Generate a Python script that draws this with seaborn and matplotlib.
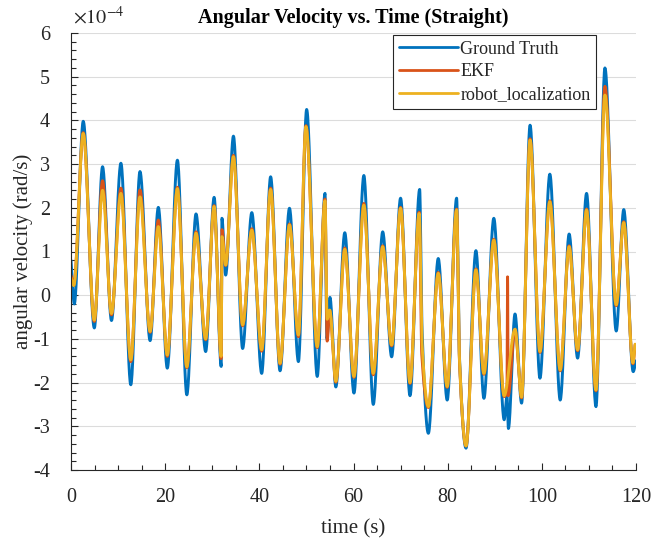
import numpy as np
import pandas as pd
import matplotlib
matplotlib.use("Agg")
import matplotlib.pyplot as plt
import seaborn as sns
from matplotlib.ticker import MultipleLocator

# ---- data: turning points (time in s, angular velocity in 1e-4 rad/s)
gt_time = [0.0, 0.7, 2.6, 4.95, 6.7, 8.6, 10.6, 12.7, 14.65, 16.8, 18.55, 20.45, 22.6, 24.6,
           26.55, 28.6, 30.4, 31.9, 32.05, 32.85, 34.5, 36.45, 38.4, 40.5, 42.4, 44.4, 46.4,
           48.3, 50.05, 52.3, 53.95, 54.35, 55.0, 56.25, 58.15, 60.1, 62.2, 64.2, 66.2, 68.1,
           70.0, 72.0, 74.05, 74.55, 75.9, 78.0, 79.9, 81.9, 82.5, 83.9, 86.0, 87.7, 89.8,
           92.0, 92.6, 92.9, 94.3, 95.7, 97.5, 99.6, 101.7, 103.9, 105.8, 107.6, 109.5,
           111.5, 113.4, 115.8, 117.4, 119.4, 120.0]
gt_vel = [0.80, -0.20, 3.98, -0.75, 2.94, -0.58, 3.02, -2.05, 2.83, -1.04, 2.01, -1.67, 3.09, -2.28,
          1.86, -1.29, 2.24, -1.63, 1.76, 0.46, 3.64, -1.22, 1.89, -1.79, 2.71, -1.73, 1.99,
          -1.52, 4.25, -1.86, 2.33, -1.00, -0.05, -2.10, 1.43, -2.24, 2.74, -2.50, 1.45, -1.41,
          2.22, -2.30, 2.42, -0.76, -3.16, 0.84, -2.40, 2.22, -1.40, -3.50, 1.02, -2.36, 1.76,
          -2.85, -2.30, -3.05, -0.43, -2.47, 3.89, -1.90, 2.77, -2.40, 1.40, -1.44, 2.33,
          -2.55, 5.20, -0.82, 1.96, -1.75, -1.50]

ekf_time = [0.0, 0.6, 2.6, 4.95, 6.7, 8.6, 10.6, 12.7, 14.65, 16.8, 18.55, 20.45, 22.6, 24.6,
            26.55, 28.6, 30.4, 31.9, 32.05, 32.85, 34.5, 36.45, 38.4, 40.5, 42.4, 44.4, 46.4,
            48.3, 49.9, 52.3, 53.95, 54.4, 54.95, 56.25, 58.15, 60.1, 62.2, 64.2, 66.2, 68.1,
            70.0, 72.0, 73.95, 74.5, 75.9, 78.0, 79.9, 81.9, 82.5, 83.9, 86.0, 87.7, 89.8,
            92.0, 92.6, 92.72, 92.85, 94.3, 95.7, 97.5, 99.6, 101.7, 103.9, 105.8, 107.6, 109.5,
            111.5, 113.4, 115.8, 117.4, 119.35, 119.8]
ekf_vel = [0.45, 0.25, 3.72, -0.60, 2.62, -0.45, 2.45, -1.52, 2.41, -0.85, 1.72, -1.40, 2.47, -1.66,
           1.45, -1.02, 2.05, -1.45, 1.50, 0.68, 3.20, -0.70, 1.52, -1.28, 2.45, -1.58, 1.63,
           -0.95, 3.88, -1.20, 2.20, -1.05, -0.36, -1.99, 1.08, -1.88, 2.10, -1.82, 1.13, -1.16,
           2.01, -2.02, 1.90, -1.35, -2.57, 0.52, -2.11, 1.97, -1.50, -3.45, 0.60, -1.81, 1.28,
           -2.32, -2.10, 0.42, -2.30, -0.78, -2.35, 3.58, -1.31, 2.16, -1.73, 1.13, -1.27, 1.97,
           -2.19, 4.78, -0.24, 1.68, -1.57, -1.14]

rl_time = [0.0, 0.6, 2.6, 4.95, 6.7, 8.6, 10.6, 12.7, 14.65, 16.8, 18.55, 20.45, 22.6, 24.6,
           26.55, 28.6, 30.4, 31.9, 32.05, 32.85, 34.5, 36.45, 38.4, 40.5, 42.4, 44.4, 46.4,
           48.3, 49.9, 52.3, 53.95, 54.4, 54.95, 56.25, 58.15, 60.1, 62.2, 64.2, 66.2, 68.1,
           70.0, 72.0, 73.95, 74.6, 75.9, 78.0, 79.9, 81.9, 82.5, 83.9, 86.0, 87.7, 89.8,
           92.0, 94.3, 95.7, 97.5, 99.6, 101.7, 103.9, 105.8, 107.6, 109.5,
           111.5, 113.4, 115.8, 117.4, 119.35, 119.8]
rl_vel = [0.40, 0.22, 3.70, -0.57, 2.40, -0.42, 2.33, -1.48, 2.25, -0.83, 1.57, -1.37, 2.44, -1.64,
          1.42, -1.00, 2.03, -1.40, 1.34, 0.69, 3.17, -0.68, 1.49, -1.25, 2.42, -1.56, 1.61,
          -0.91, 3.86, -1.18, 2.16, -0.55, -0.34, -1.97, 1.05, -1.86, 2.06, -1.79, 1.11, -1.14,
          1.99, -2.00, 1.87, -1.20, -2.55, 0.50, -2.09, 1.95, -1.45, -3.45, 0.58, -1.79, 1.26,
          -2.30, -0.78, -2.33, 3.55, -1.29, 2.14, -1.71, 1.11, -1.25, 1.95,
          -2.17, 4.58, -0.22, 1.66, -1.55, -1.12]

series_names = ["Ground Truth", "EKF", "robot_localization"]
series_colors = ["#0072BD", "#D95319", "#EDB120"]


def pchip_curve(x, y, per_seg=30):
    """Monotone cubic (shape-preserving) curve through the read points."""
    x = np.asarray(x, float)
    y = np.asarray(y, float)
    h = np.diff(x)
    d = np.diff(y) / h
    m = np.zeros_like(y)
    for k in range(1, len(x) - 1):
        if d[k - 1] * d[k] > 0:
            w1 = 2 * h[k] + h[k - 1]
            w2 = h[k] + 2 * h[k - 1]
            m[k] = (w1 + w2) / (w1 / d[k - 1] + w2 / d[k])
    m[0] = d[0]
    m[-1] = d[-1]
    xs, ys = [], []
    for k in range(len(x) - 1):
        u = np.linspace(0, 1, per_seg, endpoint=False)
        h00 = 2 * u**3 - 3 * u**2 + 1
        h10 = u**3 - 2 * u**2 + u
        h01 = -2 * u**3 + 3 * u**2
        h11 = u**3 - u**2
        xs.append(x[k] + h[k] * u)
        ys.append(h00 * y[k] + h10 * h[k] * m[k] + h01 * y[k + 1] + h11 * h[k] * m[k + 1])
    xs.append([x[-1]])
    ys.append([y[-1]])
    return np.concatenate(xs), np.concatenate(ys)


frames = []
for name, t, v in zip(series_names, [gt_time, ekf_time, rl_time], [gt_vel, ekf_vel, rl_vel]):
    xs, ys = pchip_curve(t, v)
    frames.append(pd.DataFrame({"time": xs, "vel": ys, "series": name}))
df = pd.concat(frames, ignore_index=True)

sns.set_theme(style="white")
plt.rcParams["font.family"] = ["Liberation Serif", "DejaVu Serif"]
plt.rcParams["mathtext.fontset"] = "stix"
plt.rcParams["axes.unicode_minus"] = False

fig = plt.figure(figsize=(6.54, 5.46), dpi=100)
ax = fig.add_axes([71 / 654, 1 - 470 / 546, 565 / 654, 437 / 546])

sns.lineplot(data=df, x="time", y="vel", hue="series", hue_order=series_names,
             palette=dict(zip(series_names, series_colors)), estimator=None, sort=False,
             linewidth=2.1, ax=ax)

ax.set_xlim(0, 120)
ax.set_ylim(-4, 6)
ax.xaxis.set_major_locator(MultipleLocator(20))
ax.xaxis.set_minor_locator(MultipleLocator(5))
ax.yaxis.set_major_locator(MultipleLocator(1))
ax.yaxis.set_minor_locator(MultipleLocator(0.2))
ax.grid(axis="y", which="major", color="#dcdcdc", linewidth=0.8)
ax.grid(axis="x", visible=False)
ax.set_axisbelow(True)

for s in ["top", "right"]:
    ax.spines[s].set_visible(False)
for s in ["left", "bottom"]:
    ax.spines[s].set_color("#262626")
    ax.spines[s].set_linewidth(0.8)

ax.tick_params(axis="both", which="major", direction="in", length=5, width=0.8,
               color="#262626", labelsize=14.5, labelcolor="#262626")
ax.tick_params(axis="both", which="minor", direction="in", length=3.5, width=0.8,
               color="#262626")
ax.tick_params(axis="x", which="major", pad=13, bottom=True)
ax.tick_params(axis="x", which="minor", bottom=True)
ax.tick_params(axis="y", which="major", pad=15, left=True)
ax.tick_params(axis="y", which="minor", left=True)

ax.set_xlabel("time (s)", fontsize=15, color="#262626", labelpad=9)
ax.set_ylabel("angular velocity (rad/s)", fontsize=15, color="#262626", labelpad=0)
ax.set_title("Angular Velocity vs. Time (Straight)", fontsize=14.5, fontweight="bold",
             color="black", pad=7)
fig.text(73 / 654, 1 - 18 / 546, r"$\times10^{-4}$", fontsize=14.5, color="#262626",
         va="center", ha="left")

leg = ax.legend(loc="upper right", bbox_to_anchor=(0.929, 0.995), fontsize=13,
                frameon=True, fancybox=False, edgecolor="#262626", framealpha=1,
                borderpad=0.3, labelspacing=0.32, handlelength=3.3, handletextpad=0.1,
                borderaxespad=0)
leg.get_frame().set_linewidth(0.8)
for line in leg.get_lines():
    line.set_linewidth(2.0)

fig.savefig("out.png", dpi=100)
